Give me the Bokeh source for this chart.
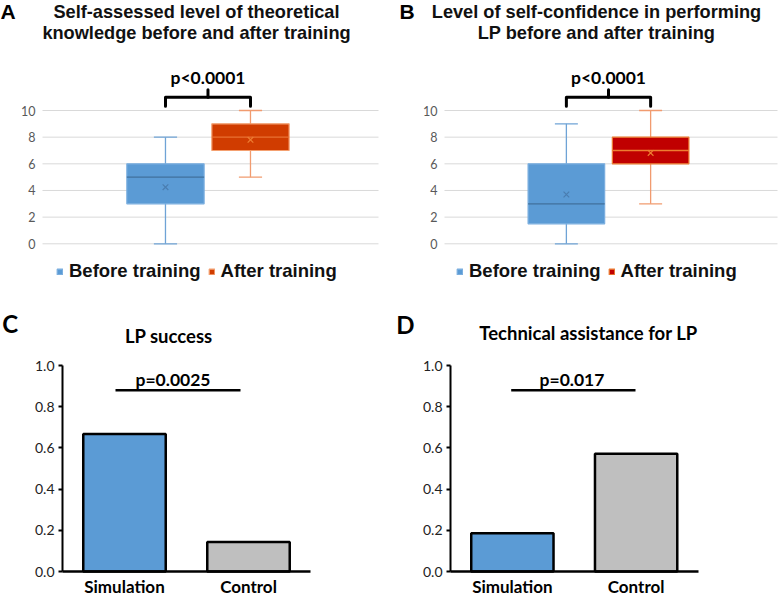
from bokeh.plotting import figure
from bokeh.models import Range1d, FixedTicker, Label, Legend, LegendItem, NumeralTickFormatter
from bokeh.layouts import column, row
from bokeh.embed import file_html
from bokeh.resources import INLINE

# ---------------- data ----------------
box_series = ["Before training", "After training"]

# Panel A: self-assessed theoretical knowledge (0-10)
a_min = [0, 5]
a_q1 = [3, 7]
a_med = [5, 8]
a_q3 = [6, 9]
a_max = [8, 10]
a_mean = [4.25, 7.8]

# Panel B: self-confidence in performing LP (0-10)
b_min = [0, 3]
b_q1 = [1.5, 6]
b_med = [3, 7]
b_q3 = [6, 8]
b_max = [9, 10]
b_mean = [3.7, 6.82]

box_ticks = [0, 2, 4, 6, 8, 10]

bar_groups = ["Simulation", "Control"]
c_values = [0.667, 0.143]   # LP success
d_values = [0.186, 0.571]   # Technical assistance for LP
bar_ticks = [0.0, 0.2, 0.4, 0.6, 0.8, 1.0]

# ---------------- layout constants ----------------
W, H = 389, 298
BOX_X = [0.366, 0.619]
BOX_W = 0.23
CAP_W = 0.069
TITLE_FONT = "Liberation Sans"
CAL_FONT = "Lato"


def box_panel(letter, title_lines, title_cx, mins, q1, med, q3, maxs, means,
              fills, borders, whisk, medc, meanc, frame_left, frame_right,
              letter_left, legend_x):
    y0_px, y10_px = 243.3, 110.0
    ppu = (y0_px - y10_px) / 10.0
    ydat = lambda py: (y0_px - py) / ppu
    xdat = lambda px: (px - frame_left) / (frame_right - frame_left)

    p = figure(width=W, height=H, x_range=Range1d(xdat(0), xdat(W)),
               y_range=Range1d(ydat(H), ydat(0)),
               x_axis_location=None, output_backend="svg", toolbar_location=None,
               min_border=0)
    p.outline_line_color = None
    p.grid.visible = False
    ax = p.yaxis[0]
    ax.fixed_location = 0
    ax.ticker = FixedTicker(ticks=box_ticks)
    ax.axis_line_color = None
    ax.major_tick_line_color = None
    ax.minor_tick_line_color = None
    ax.major_tick_out = 0
    ax.major_label_standoff = 7
    ax.major_label_text_font = CAL_FONT
    ax.major_label_text_font_size = "12.5px"
    ax.major_label_text_color = "#595959"

    # horizontal gridlines across the plot area only
    p.segment(x0=[0] * len(box_ticks), y0=box_ticks, x1=[1] * len(box_ticks), y1=box_ticks,
              line_color="#D9D9D9", line_width=1)

    # whiskers + caps
    p.segment(x0=BOX_X, y0=mins, x1=BOX_X, y1=maxs, line_color=whisk, line_width=1.3)
    p.segment(x0=[x - CAP_W / 2 for x in BOX_X], y0=mins,
              x1=[x + CAP_W / 2 for x in BOX_X], y1=mins, line_color=whisk, line_width=1.3)
    p.segment(x0=[x - CAP_W / 2 for x in BOX_X], y0=maxs,
              x1=[x + CAP_W / 2 for x in BOX_X], y1=maxs, line_color=whisk, line_width=1.3)
    boxes = p.vbar(x=BOX_X, bottom=q1, top=q3, width=BOX_W, fill_color=fills,
                   line_color=borders, line_width=1.2)
    p.segment(x0=[x - BOX_W / 2 for x in BOX_X], y0=med,
              x1=[x + BOX_W / 2 for x in BOX_X], y1=med, line_color=medc, line_width=1.3)
    p.scatter(x=BOX_X, y=means, marker="x", size=8, line_color=meanc, line_width=1.2)

    # significance bracket
    xl, xr = BOX_X
    xm = (xl + xr) / 2
    yb, ye, yt = ydat(96.7), ydat(105.7), ydat(89.3)
    p.line(x=[xl, xl, xr, xr], y=[ye, yb, yb, ye], line_color="black", line_width=3,
           line_join="round", line_cap="round")
    p.segment(x0=[xm], y0=[yb], x1=[xm], y1=[yt], line_color="black", line_width=3,
              line_cap="round")
    p.add_layout(Label(x=xm, y=ydat(76.5), text="p<0.0001", text_align="center",
                       text_baseline="middle", text_font=CAL_FONT,
                       text_font_size="17.5px", text_font_style="bold", text_color="black"))

    # title
    for i, t in enumerate(title_lines):
        p.add_layout(Label(x=xdat(title_cx), y=ydat(11.0 + 21.5 * i), text=t,
                           text_align="center", text_baseline="middle",
                           text_font=TITLE_FONT, text_font_size="18.2px",
                           text_font_style="bold", text_color="#111111"))
    p.add_layout(Label(x=xdat(letter_left), y=ydat(11.0), text=letter, text_align="left",
                       text_baseline="middle", text_font=TITLE_FONT,
                       text_font_size="21px", text_font_style="bold", text_color="black"))

    legend = Legend(items=[LegendItem(label=box_series[0], renderers=[boxes], index=0),
                           LegendItem(label=box_series[1], renderers=[boxes], index=1)],
                    orientation="horizontal", location=(legend_x, 16),
                    glyph_width=7, glyph_height=7, label_height=14, label_width=10,
                    label_standoff=6, spacing=7, padding=0, margin=0,
                    label_text_font=TITLE_FONT, label_text_font_size="18.5px",
                    label_text_font_style="bold", label_text_color="#111111",
                    background_fill_alpha=0, border_line_color=None)
    p.add_layout(legend)
    return p


def bar_panel(letter, title, title_cx, title_cy, values, frame_left, frame_right,
              pline_px, ptext, ptext_cx, letter_left, letter_cy):
    n = len(bar_groups)
    y0_px, y1_px = 273.0, 67.0
    ppu = y0_px - y1_px
    ydat = lambda py: (y0_px - py) / ppu
    xdat = lambda px: (px - frame_left) / (frame_right - frame_left) * n
    bar_x = [i + 0.5 for i in range(n)]

    p = figure(width=W, height=H, x_range=Range1d(xdat(0), xdat(W)),
               y_range=Range1d(ydat(H), ydat(0)), output_backend="svg",
               toolbar_location=None, min_border=0)
    p.outline_line_color = None
    p.grid.visible = False
    p.vbar(x=bar_x, top=values, width=0.665, fill_color=["#5B9BD5", "#BFBFBF"],
           line_color="black", line_width=2.5)

    ya = p.yaxis[0]
    ya.fixed_location = 0
    ya.ticker = FixedTicker(ticks=bar_ticks)
    ya.formatter = NumeralTickFormatter(format="0.0")
    ya.bounds = (0, 1)
    ya.axis_line_width = 2
    ya.axis_line_color = "black"
    ya.major_tick_line_width = 2
    ya.major_tick_line_color = "black"
    ya.major_tick_out = 4
    ya.major_tick_in = 0
    ya.minor_tick_line_color = None
    ya.major_label_standoff = 4
    ya.major_label_text_font = CAL_FONT
    ya.major_label_text_font_size = "14px"
    ya.major_label_text_color = "#222222"

    xa = p.xaxis[0]
    xa.fixed_location = 0
    xa.bounds = (0, n)
    xa.ticker = FixedTicker(ticks=bar_x)
    xa.major_label_overrides = {x: g for x, g in zip(bar_x, bar_groups)}
    xa.axis_line_width = 2.5
    xa.axis_line_color = "black"
    xa.major_tick_line_color = None
    xa.minor_tick_line_color = None
    xa.major_tick_out = 0
    xa.major_tick_in = 0
    xa.major_label_standoff = 4
    xa.major_label_text_font = CAL_FONT
    xa.major_label_text_font_size = "17px"
    xa.major_label_text_font_style = "bold"
    xa.major_label_text_color = "black"

    y_line = ydat(91.7)
    p.segment(x0=[xdat(pline_px[0])], y0=[y_line], x1=[xdat(pline_px[1])], y1=[y_line],
              line_color="black", line_width=2.5)
    p.add_layout(Label(x=xdat(ptext_cx), y=ydat(80.8), text=ptext,
                       text_align="center", text_baseline="middle", text_font=CAL_FONT,
                       text_font_size="17.5px", text_font_style="bold", text_color="black"))
    p.add_layout(Label(x=xdat(title_cx), y=ydat(title_cy), text=title, text_align="center",
                       text_baseline="middle", text_font=CAL_FONT, text_font_size="18.5px",
                       text_font_style="bold", text_color="black"))
    p.add_layout(Label(x=xdat(letter_left), y=ydat(letter_cy), text=letter,
                       text_align="left", text_baseline="middle", text_font=CAL_FONT,
                       text_font_size="24px", text_font_style="bold", text_color="black"))
    return p


pa = box_panel("A", ["Self-assessed level of theoretical",
                     "knowledge before and after training"], 196,
               a_min, a_q1, a_med, a_q3, a_max, a_mean,
               ["#5B9BD5", "#D03C00"], ["#7AAEDF", "#F4A070"], ["#6FA3D6", "#F19B6F"],
               ["#41719C", "#E97132"], ["#4A7DB0", "#ED7D31"], 42, 378, 0, 56)
pb = box_panel("B", ["Level of self-confidence in performing",
                     "LP before and after training"], 207,
               b_min, b_q1, b_med, b_q3, b_max, b_mean,
               ["#5B9BD5", "#C00000"], ["#7AAEDF", "#ED7D31"], ["#6FA3D6", "#F19B6F"],
               ["#41719C", "#ED7D31"], ["#4A7DB0", "#ED7D31"], 55, 388, 10, 67)
pc = bar_panel("C", "LP success", 168.3, 37.0, c_values, 62, 310, (115, 240),
               "p=0.0025", 172.5, 1.7, 25.3)
pd_ = bar_panel("D", "Technical assistance for LP", 199, 34.2, d_values, 61, 308.5,
                (121.7, 246), "p=0.017", 182.5, 6.7, 26.0)

layout = column(row(pa, pb), row(pc, pd_))
open("out.html", "w").write(file_html(layout, INLINE))
